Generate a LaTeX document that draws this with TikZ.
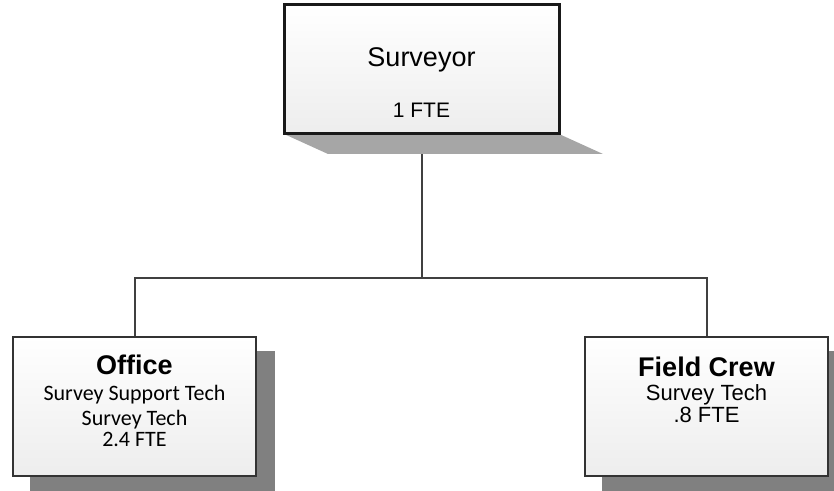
\documentclass[tikz,border=0pt]{standalone}
\usepackage{fontspec}
\setmainfont{Liberation Sans}
\newfontfamily\calfont{Carlito}
\begin{document}
\begin{tikzpicture}[x=1pt,y=1pt,
  conn/.style={draw=black!75, line width=2pt},
  boxA/.style={draw=black!90, line width=3pt, rectangle, top color=white, bottom color=black!7, inner sep=0pt},
  boxB/.style={draw=black!80, line width=2pt, rectangle, top color=white, bottom color=black!7, inner sep=0pt},
  txt/.style={anchor=base, inner sep=0pt},
]
\useasboundingbox (0,0) rectangle (834,490);
\begin{scope}
\clip (0,0) rectangle (834,490);
% connectors
\node[minimum width=275pt, minimum height=129pt] (surv) at (421.5,420.5) {};
\node[minimum width=243pt, minimum height=139pt] (off) at (134.5,83.5) {};
\node[minimum width=243pt, minimum height=139pt] (fld) at (706.5,83.5) {};
\coordinate (j) at (421.5,212);
\draw[conn] (surv.south) -- (j);
\draw[conn] (off.north) |- (j) -| (fld.north);
% shadows
\fill[black!35] (284,356) -- (559,356) -- (603,336) -- (328,336) -- cycle;
\fill[black!50] (30,-5) rectangle (275,139);
\fill[black!50] (602,-5) rectangle (840,139);
% boxes
\node[boxA, minimum width=275pt, minimum height=129pt] (survb) at (surv.center) {};
\node[boxB, minimum width=243pt, minimum height=139pt] (offb) at (off.center) {};
\node[boxB, minimum width=243pt, minimum height=139pt] (fldb) at (fld.center) {};
\end{scope}
% texts
\node[txt, font=\fontsize{27}{27}\selectfont] (t1) at (421.5,423) {Surveyor};
\node[txt, font=\fontsize{21}{21}\selectfont] (t2) at (421.5,372) {1 FTE};
\node[txt, font=\bfseries\fontsize{27}{27}\selectfont] (t3) at (134.5,116) {Office};
\node[txt, font=\calfont\fontsize{22}{22}\selectfont] (t4) at (134.5,90) {Survey Support Tech};
\node[txt, font=\calfont\fontsize{22}{22}\selectfont] (t5) at (134.5,65) {Survey Tech};
\node[txt, font=\calfont\fontsize{22}{22}\selectfont] (t6) at (134.5,44) {2.4 FTE};
\node[txt, font=\bfseries\fontsize{27}{27}\selectfont] (t7) at (706.5,114) {Field Crew};
\node[txt, font=\fontsize{22}{22}\selectfont] (t8) at (706.5,90) {Survey Tech};
\node[txt, font=\fontsize{22}{22}\selectfont] (t9) at (706.5,68) {.8 FTE};
\end{tikzpicture}
\end{document}
